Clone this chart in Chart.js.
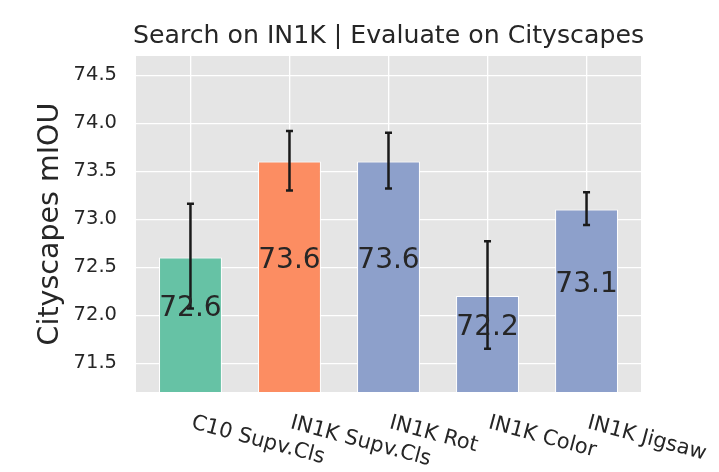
<!DOCTYPE html>
<html>
<head>
<meta charset="utf-8">
<script src="https://cdn.jsdelivr.net/npm/chart.js@4/dist/chart.umd.min.js"></script>
<style>
  html, body { margin: 0; padding: 0; background: #ffffff; }
  #wrap { width: 719px; height: 472px; }
</style>
</head>
<body>
<div id="wrap"><canvas id="c" width="719" height="472"></canvas></div>
<script>
const categories = ['C10 Supv.Cls', 'IN1K Supv.Cls', 'IN1K Rot', 'IN1K Color', 'IN1K Jigsaw'];
const values = [72.6, 73.6, 73.6, 72.2, 73.1];
const errLow = [72.07, 73.30, 73.32, 71.65, 72.94];
const errHigh = [73.16, 73.92, 73.90, 72.77, 73.28];
const yTicks = [71.5, 72.0, 72.5, 73.0, 73.5, 74.0, 74.5];
const chartTitle = 'Search on IN1K | Evaluate on Cityscapes';
const barColors = ['#66c2a5', '#fc8d62', '#8da0cb', '#8da0cb', '#8da0cb'];

const FONT = "'DejaVu Sans', sans-serif";
const TEXT = '#262626';

const bgPlugin = {
  id: 'bg',
  beforeDraw(chart) {
    const { ctx, chartArea: a } = chart;
    ctx.save();
    ctx.fillStyle = '#ffffff';
    ctx.fillRect(0, 0, chart.width, chart.height);
    ctx.fillStyle = '#e5e5e5';
    ctx.fillRect(a.left, a.top, a.right - a.left, a.bottom - a.top);
    ctx.restore();
  }
};

const overlayPlugin = {
  id: 'overlay',
  afterDatasetsDraw(chart) {
    const { ctx, chartArea: a } = chart;
    const xs = chart.scales.x, ys = chart.scales.y;
    ctx.save();
    // title centred over the plot area
    ctx.fillStyle = TEXT;
    ctx.font = "25.2px " + FONT;
    ctx.textAlign = 'center';
    ctx.textBaseline = 'middle';
    ctx.fillText(chartTitle, (a.left + a.right) / 2, a.top - 20);
    // error bars
    ctx.strokeStyle = '#1a1a1a';
    ctx.lineWidth = 2.5;
    ctx.lineCap = 'butt';
    values.forEach((v, i) => {
      const x = xs.getPixelForValue(i);
      const y1 = ys.getPixelForValue(errLow[i]);
      const y2 = ys.getPixelForValue(errHigh[i]);
      ctx.beginPath();
      ctx.moveTo(x, y1); ctx.lineTo(x, y2);
      ctx.moveTo(x - 3.5, y1); ctx.lineTo(x + 3.5, y1);
      ctx.moveTo(x - 3.5, y2); ctx.lineTo(x + 3.5, y2);
      ctx.stroke();
    });
    // value labels
    ctx.fillStyle = TEXT;
    ctx.font = "28px " + FONT;
    ctx.textAlign = 'center';
    ctx.textBaseline = 'middle';
    values.forEach((v, i) => {
      const x = xs.getPixelForValue(i);
      const y = (ys.getPixelForValue(v) + ys.getPixelForValue(71.54)) / 2;
      ctx.fillText(v.toFixed(1), x, y);
    });
    // rotated category labels, left-anchored at each tick
    ctx.font = "21px " + FONT;
    ctx.textAlign = 'left';
    ctx.textBaseline = 'alphabetic';
    categories.forEach((c, i) => {
      const x = xs.getPixelForValue(i);
      const y = a.bottom + 36;
      ctx.save();
      ctx.translate(x, y);
      ctx.rotate(15 * Math.PI / 180);
      ctx.fillText(c, 0, 0);
      ctx.restore();
    });
    ctx.restore();
  }
};

new Chart(document.getElementById('c'), {
  type: 'bar',
  data: {
    datasets: [{
      data: values.map((v, i) => ({ x: i, y: v })),
      backgroundColor: barColors,
      borderColor: '#ffffff',
      borderWidth: 1,
      categoryPercentage: 0.635,
      barPercentage: 1
    }]
  },
  options: {
    responsive: false,
    animation: false,
    layout: { padding: { left: 0, right: 78, top: 56, bottom: 0 } },
    plugins: {
      legend: { display: false },
      tooltip: { enabled: false },
      title: { display: false }
    },
    scales: {
      x: {
        type: 'linear',
        offset: false,
        min: -0.55,
        max: 4.55,
        afterBuildTicks: s => { s.ticks = categories.map((c, i) => ({ value: i })); },
        ticks: { display: false },
        grid: { color: '#ffffff', lineWidth: 1.3, drawTicks: false, offset: false },
        border: { display: false },
        afterFit: s => { s.height = 80; }
      },
      y: {
        min: 71.2,
        max: 74.7,
        afterBuildTicks: s => { s.ticks = yTicks.map(v => ({ value: v })); },
        ticks: {
          color: TEXT,
          font: { family: FONT, size: 19.5 },
          padding: 19,
          callback: v => Number(v).toFixed(1)
        },
        grid: { color: '#ffffff', lineWidth: 1.3, drawTicks: false },
        border: { display: false },
        title: {
          display: true,
          text: 'Cityscapes mIOU',
          color: TEXT,
          font: { family: FONT, size: 28.5 },
          padding: { top: 33, bottom: 0 }
        },
        afterFit: s => { s.width = 136; }
      }
    }
  },
  plugins: [bgPlugin, overlayPlugin]
});
</script>
</body>
</html>
